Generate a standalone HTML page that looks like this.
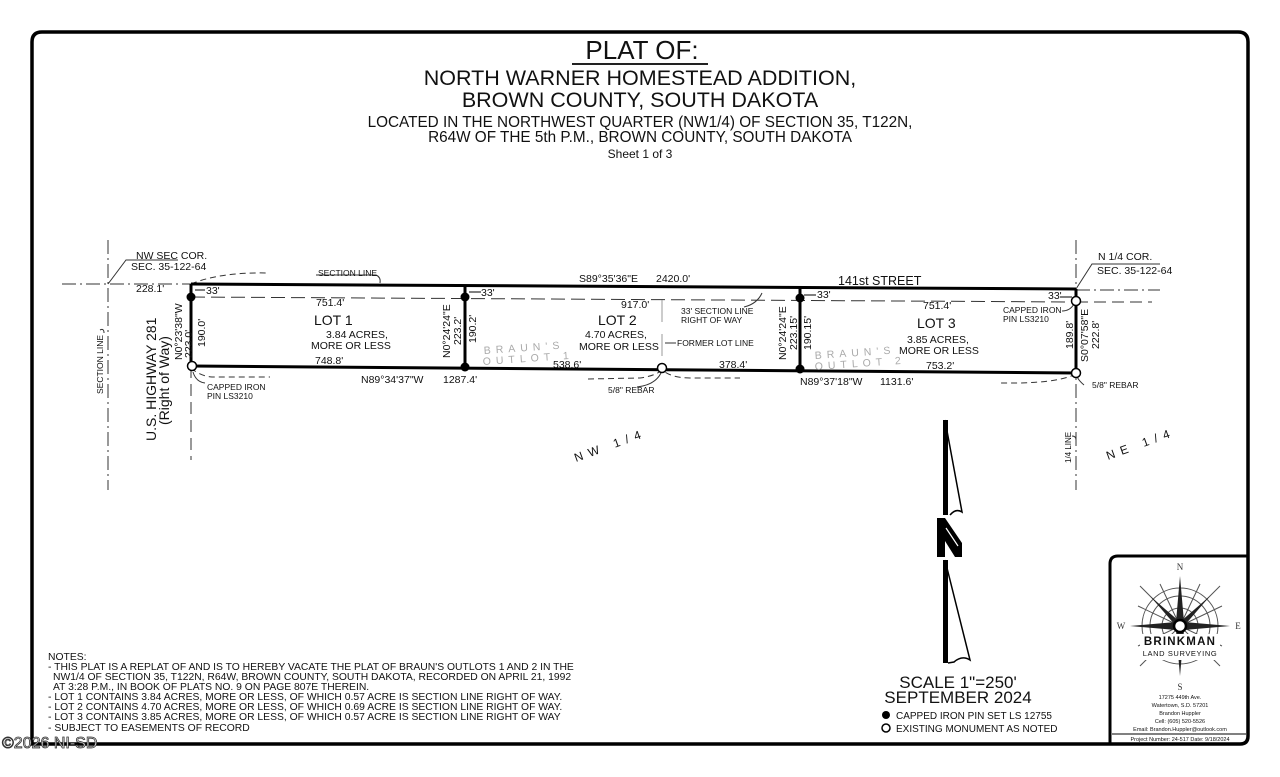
<!DOCTYPE html>
<html><head><meta charset="utf-8"><style>
html,body{margin:0;padding:0;background:#fff;}
svg{display:block;font-family:"Liberation Sans",Arial,sans-serif;}
</style></head><body>
<svg width="1280" height="777" viewBox="0 0 1280 777" xmlns="http://www.w3.org/2000/svg">
<rect width="1280" height="777" fill="#fff"/>
<path d="M32 744 L32 42 Q32 32 42 32 L1238 32 Q1248 32 1248 42 L1248 736 Q1248 744 1240 744 Z" fill="none" stroke="#000" stroke-width="3.5"/>

<g text-anchor="middle" fill="#111">
<text x="642" y="59" font-size="26">PLAT OF:</text>
<line x1="572" y1="64" x2="708" y2="64" stroke="#222" stroke-width="2"/>
<text x="640" y="85" font-size="21.5">NORTH WARNER HOMESTEAD ADDITION,</text>
<text x="640" y="107" font-size="21.5">BROWN COUNTY, SOUTH DAKOTA</text>
<text x="640" y="127" font-size="15.3">LOCATED IN THE NORTHWEST QUARTER (NW1/4) OF SECTION 35, T122N,</text>
<text x="640" y="142" font-size="15.3">R64W OF THE 5th P.M., BROWN COUNTY, SOUTH DAKOTA</text>
<text x="640" y="158" font-size="12">Sheet 1 of 3</text>
</g>

<g stroke="#333" stroke-width="1" fill="none">
<line x1="62" y1="284" x2="191" y2="284" stroke-dasharray="14,4,2,4"/>
<line x1="108" y1="240" x2="108" y2="490" stroke-dasharray="14,4,2,4"/>
<line x1="1076" y1="240" x2="1076" y2="490" stroke-dasharray="14,4,2,4"/>
<line x1="1076" y1="290" x2="1160" y2="290" stroke-dasharray="14,4,2,4"/>
<line x1="1076" y1="302" x2="1152" y2="302" stroke-dasharray="12,6"/>
<line x1="191" y1="366" x2="191" y2="460" stroke-dasharray="12,6"/>
<line x1="191" y1="297" x2="1076" y2="302" stroke-dasharray="14,6"/>
<line x1="662" y1="300" x2="662" y2="368" stroke="#999" stroke-dasharray="22,12"/>
<path d="M191 284 Q220 272 268 273" stroke-dasharray="6,4"/>
<path d="M191 368 Q200 376 212 377 L270 377" stroke-dasharray="6,4"/>
<path d="M588 379 L640 378 Q655 376 662 370 Q672 378 690 378 L740 378" stroke-dasharray="6,4"/>
<path d="M1076 374 Q1060 382 1020 383 L1000 383" stroke-dasharray="6,4"/>
<path d="M108 284 L126 260 L178 260"/>
<path d="M1076 289 L1092 264 L1160 264"/>
<path d="M316 275 L376 275 Q381 277 380 283"/>
<path d="M744 307 Q757 304 762 293"/>
<path d="M100 330 Q104 328 104 333"/>
<path d="M205 383 Q196 382 193 372"/>
<path d="M637 387 Q655 385 661 373"/>
<path d="M1084 385 Q1078 380 1077 376"/>
<path d="M1062 311 Q1070 311 1074 304"/>
<path d="M1072 436 Q1076 436 1076 440"/>
<path d="M676 343 L665 343"/>
</g>
<g stroke="#000" stroke-width="3" fill="none">
<line x1="191" y1="284" x2="1076" y2="289"/>
<line x1="191" y1="366" x2="1076" y2="373"/>
<line x1="191" y1="284" x2="191" y2="366"/>
<line x1="465" y1="286" x2="465" y2="367"/>
<line x1="800" y1="288" x2="800" y2="369"/>
<line x1="1076" y1="289" x2="1076" y2="373"/>
</g>
<g stroke="#000" stroke-width="1">
<line x1="195" y1="290" x2="205" y2="290"/><line x1="469" y1="292" x2="481" y2="292"/><line x1="804" y1="295" x2="816" y2="295"/><line x1="1060" y1="297" x2="1072" y2="297"/>
</g>
<g fill="#000">
<circle cx="191" cy="297" r="4.5"/><circle cx="465" cy="297" r="4.5"/><circle cx="465" cy="367" r="4.5"/>
<circle cx="800" cy="298" r="4.5"/><circle cx="800" cy="369" r="4.5"/>
</g>
<g fill="#fff" stroke="#000" stroke-width="1.5">
<circle cx="192" cy="366" r="4.5"/><circle cx="662" cy="368" r="4.5"/><circle cx="1076" cy="301" r="4.5"/><circle cx="1076" cy="373" r="4.5"/>
</g>

<g fill="#111" font-size="9.5">
<text x="136" y="259" font-size="10.5">NW SEC COR.</text>
<text x="131" y="270" font-size="10.5">SEC. 35-122-64</text>
<text x="136" y="292" font-size="10.5">228.1'</text>
<text x="318" y="276" font-size="8.5">SECTION LINE</text>
<text x="206" y="294" font-size="10.5">33'</text>
<text x="481" y="296" font-size="10.5">33'</text>
<text x="817" y="298" font-size="10.5">33'</text>
<text x="1048" y="299" font-size="10.5">33'</text>
<text x="316" y="306" font-size="10.5">751.4'</text>
<text x="314" y="325" font-size="14">LOT 1</text>
<text x="326" y="338" font-size="10.5">3.84 ACRES,</text>
<text x="311" y="349" font-size="10.5">MORE OR LESS</text>
<text x="315" y="364" font-size="10.5">748.8'</text>
<text x="361" y="383" font-size="10.5">N89°34'37"W</text>
<text x="443" y="383" font-size="10.5">1287.4'</text>
<text x="207" y="390" font-size="8.5">CAPPED IRON</text>
<text x="207" y="399" font-size="8.5">PIN  LS3210</text>
<text x="579" y="282" font-size="10.5">S89°35'36"E</text>
<text x="656" y="282" font-size="10.5">2420.0'</text>
<text x="838" y="285" font-size="12.5">141st STREET</text>
<text x="621" y="308" font-size="10.5">917.0'</text>
<text x="598" y="325" font-size="14">LOT 2</text>
<text x="585" y="338" font-size="10.5">4.70 ACRES,</text>
<text x="579" y="350" font-size="10.5">MORE OR LESS</text>
<text x="681" y="314" font-size="8.5">33' SECTION LINE</text>
<text x="681" y="323" font-size="8.5">RIGHT OF WAY</text>
<text x="677" y="346" font-size="8.5">FORMER LOT LINE</text>
<text x="553" y="368" font-size="10.5">538.6'</text>
<text x="719" y="368" font-size="10.5">378.4'</text>
<text x="608" y="393" font-size="8.5">5/8" REBAR</text>
<text x="923" y="309" font-size="10.5">751.4'</text>
<text x="917" y="328" font-size="14">LOT 3</text>
<text x="907" y="343" font-size="10.5">3.85 ACRES,</text>
<text x="899" y="354" font-size="10.5">MORE OR LESS</text>
<text x="926" y="369" font-size="10.5">753.2'</text>
<text x="800" y="385" font-size="10.5">N89°37'18"W</text>
<text x="880" y="385" font-size="10.5">1131.6'</text>
<text x="1003" y="313" font-size="8.5">CAPPED IRON</text>
<text x="1003" y="322" font-size="8.5">PIN  LS3210</text>
<text x="1092" y="388" font-size="8.5">5/8" REBAR</text>
<text x="1098" y="260" font-size="10.5">N 1/4 COR.</text>
<text x="1097" y="274" font-size="10.5">SEC. 35-122-64</text>
<g fill="#aaa" font-size="10.5" letter-spacing="5">
<text transform="translate(484 354) rotate(-4)">BRAUN'S</text>
<text transform="translate(483 365) rotate(-4)">OUTLOT 1</text>
<text transform="translate(815 359) rotate(-4)">BRAUN'S</text>
<text transform="translate(815 370) rotate(-4)">OUTLOT 2</text>
</g>
<g font-size="10.5">
<text transform="translate(182 360) rotate(-90)">N0°23'38"W</text>
<text transform="translate(192 358) rotate(-90)">223.0'</text>
<text transform="translate(205 347) rotate(-90)">190.0'</text>
<text transform="translate(450 358) rotate(-90)">N0°24'24"E</text>
<text transform="translate(461 345) rotate(-90)">223.2'</text>
<text transform="translate(476 343) rotate(-90)">190.2'</text>
<text transform="translate(786 360) rotate(-90)">N0°24'24"E</text>
<text transform="translate(797 350) rotate(-90)">223.15'</text>
<text transform="translate(811 350) rotate(-90)">190.15'</text>
<text transform="translate(1073 349) rotate(-90)">189.8'</text>
<text transform="translate(1088 362) rotate(-90)">S0°07'58"E</text>
<text transform="translate(1099 349) rotate(-90)">222.8'</text>
</g>
<text transform="translate(103 394) rotate(-90)" font-size="8.5">SECTION LINE</text>
<text transform="translate(1071 463) rotate(-90)" font-size="8">1/4 LINE</text>
<text transform="translate(156 441) rotate(-90)" font-size="14">U.S. HIGHWAY 281</text>
<text transform="translate(169 425) rotate(-90)" font-size="14">(Right of Way)</text>
<text transform="translate(576 462) rotate(-20)" font-size="12" letter-spacing="6">NW 1/4</text>
<text transform="translate(1108 460) rotate(-20)" font-size="12" letter-spacing="6">NE 1/4</text>
</g>

<g fill="#000" stroke="#000">
<path d="M943 420 L948 420 L948 515 L943 515 Z" stroke="none"/>
<path d="M945 420 L962 512 Q956 508 950 515" fill="none" stroke-width="1.5"/>
<path d="M937 518 L945 518 L962 543 L962 557 L955 557 L945 541 L945 557 L937 557 Z" stroke="none"/>
<path d="M946 528 L958 546" stroke="#fff" stroke-width="1.2"/>
<path d="M943 560 L948 560 L948 663 L943 663 Z" stroke="none"/>
<path d="M945 560 L970 660 Q962 655 954 662 L948 663" fill="none" stroke-width="1.5"/>
</g>
<g fill="#111" text-anchor="middle">
<text x="958" y="688" font-size="17">SCALE 1"=250'</text>
<text x="958" y="703" font-size="17">SEPTEMBER 2024</text>
</g>
<circle cx="886" cy="715" r="4" fill="#000"/>
<circle cx="886" cy="728" r="4" fill="#fff" stroke="#000" stroke-width="1.5"/>
<text x="896" y="719" font-size="10" fill="#111">CAPPED IRON PIN SET LS 12755</text>
<text x="896" y="732" font-size="10" fill="#111">EXISTING MONUMENT AS NOTED</text>

<g fill="#111" font-size="10.35">
<text x="48" y="660">NOTES:</text>
<text x="48" y="670">- THIS PLAT IS A REPLAT OF AND IS TO HEREBY VACATE THE PLAT OF BRAUN'S OUTLOTS 1 AND 2 IN THE</text>
<text x="53" y="680">NW1/4 OF SECTION 35, T122N, R64W, BROWN COUNTY, SOUTH DAKOTA, RECORDED ON APRIL 21, 1992</text>
<text x="53" y="690">AT 3:28 P.M., IN BOOK OF PLATS NO. 9 ON PAGE 807E THEREIN.</text>
<text x="48" y="700">- LOT 1 CONTAINS 3.84 ACRES, MORE OR LESS, OF WHICH 0.57 ACRE IS SECTION LINE RIGHT OF WAY.</text>
<text x="48" y="710">- LOT 2 CONTAINS 4.70 ACRES, MORE OR LESS, OF WHICH 0.69 ACRE IS SECTION LINE RIGHT OF WAY.</text>
<text x="48" y="720">- LOT 3 CONTAINS 3.85 ACRES, MORE OR LESS, OF WHICH 0.57 ACRE IS SECTION LINE RIGHT OF WAY</text>
<text x="48" y="731">- SUBJECT TO EASEMENTS OF RECORD</text>
</g>
<text x="2" y="748" font-size="16" fill="#fff" stroke="#333" stroke-width="0.8">©2026 NI-SD</text>

<path d="M1110 744 L1110 564 Q1110 556 1118 556 L1248 556" fill="none" stroke="#000" stroke-width="3"/>
<line x1="1112" y1="734" x2="1246" y2="734" stroke="#000" stroke-width="1"/>
<g stroke="#555" fill="none" stroke-width="1">
<circle cx="1180" cy="626" r="38"/>
<circle cx="1180" cy="626" r="30"/>
<circle cx="1180" cy="626" r="18"/>
<path d="M1180 626 L1140 586 M1180 626 L1220 586 M1180 626 L1140 666 M1180 626 L1220 666 M1180 626 L1160 584 M1180 626 L1200 584 M1180 626 L1138 606 M1180 626 L1222 606 M1180 626 L1138 646 M1180 626 L1222 646"/>
</g>
<g fill="#222">
<path d="M1180 576 L1184 622 L1176 622 Z"/>
<path d="M1180 676 L1184 630 L1176 630 Z"/>
<path d="M1130 626 L1176 622 L1176 630 Z"/>
<path d="M1230 626 L1184 622 L1184 630 Z"/>
<path d="M1150 596 L1180 622 L1176 626 Z"/>
<path d="M1210 596 L1180 622 L1184 626 Z"/>
</g>
<circle cx="1180" cy="626" r="6" fill="#fff" stroke="#000" stroke-width="2.5"/>
<rect x="1140" y="634" width="80" height="26" fill="#fff"/>
<g text-anchor="middle" font-family="'Liberation Serif',serif" font-size="9" fill="#333">
<text x="1180" y="570">N</text><text x="1121" y="629">W</text><text x="1238" y="629">E</text><text x="1180" y="690">S</text>
</g>
<g text-anchor="middle" fill="#111">
<text x="1180" y="645" font-size="11.5" font-weight="bold" letter-spacing="1.2">BRINKMAN</text>
<text x="1180" y="656" font-size="7.5" letter-spacing="0.6">LAND SURVEYING</text>
<g font-size="5.5">
<text x="1180" y="699">17275 449th Ave.</text>
<text x="1180" y="707">Watertown, S.D. 57201</text>
<text x="1180" y="715">Brandon Huppler</text>
<text x="1180" y="723">Cell: (605) 520-5526</text>
<text x="1180" y="731">Email: Brandon.Huppler@outlook.com</text>
<text x="1180" y="741">Project Number: 24-517    Date: 9/18/2024</text>
</g>
</g>
</svg>
</body></html>
